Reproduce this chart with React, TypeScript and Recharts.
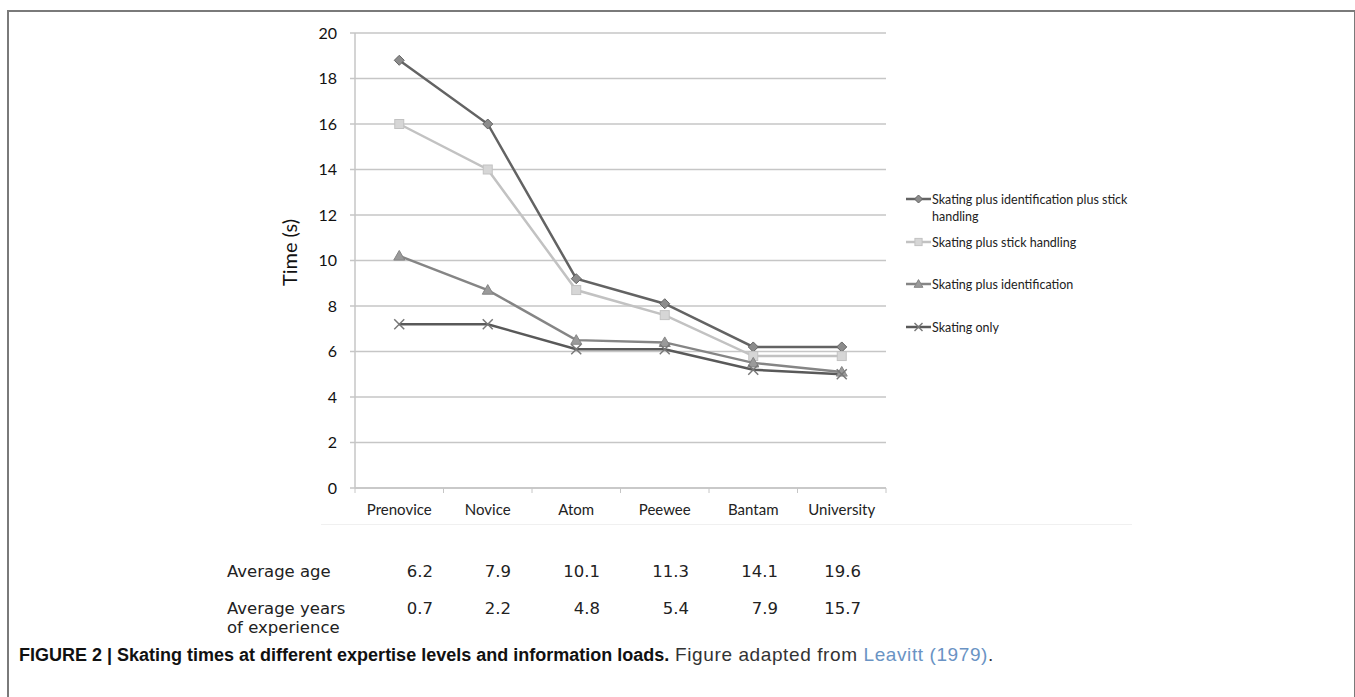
import { LineChart, Line, XAxis, YAxis, CartesianGrid } from 'recharts';

// expertise levels along the x axis
const levels = ['Prenovice', 'Novice', 'Atom', 'Peewee', 'Bantam', 'University'];

// skating times (s)
const identPlusStick = [18.8, 16, 9.2, 8.1, 6.2, 6.2];
const plusStick = [16, 14, 8.7, 7.6, 5.8, 5.8];
const plusIdent = [10.2, 8.7, 6.5, 6.4, 5.5, 5.1];
const skatingOnly = [7.2, 7.2, 6.1, 6.1, 5.2, 5.0];

// table under the chart
const avgAge = ['6.2', '7.9', '10.1', '11.3', '14.1', '19.6'];
const avgYears = ['0.7', '2.2', '4.8', '5.4', '7.9', '15.7'];

const yTicks = [0, 2, 4, 6, 8, 10, 12, 14, 16, 18, 20];

type Marker = 'diamond' | 'square' | 'triangle' | 'cross';

const series: { key: string; name: string; stroke: string; fill: string; marker: Marker }[] = [
  { key: 'identStick', name: 'Skating plus identification plus stick handling', stroke: '#636363', fill: '#8c8c8c', marker: 'diamond' },
  { key: 'stick', name: 'Skating plus stick handling', stroke: '#c2c2c2', fill: '#d6d6d6', marker: 'square' },
  { key: 'ident', name: 'Skating plus identification', stroke: '#858585', fill: '#9a9a9a', marker: 'triangle' },
  { key: 'skating', name: 'Skating only', stroke: '#595959', fill: '#777777', marker: 'cross' },
];

const data = levels.map((level, i) => ({
  level,
  identStick: identPlusStick[i],
  stick: plusStick[i],
  ident: plusIdent[i],
  skating: skatingOnly[i],
}));

const W = 1355;
const H = 697;
const margin = { top: 33, right: 469, bottom: 179, left: 295 };
const Y_AXIS_W = 60;
const plotW = W - margin.left - margin.right - Y_AXIS_W;
const band = plotW / levels.length;

const gridColor = '#c6c6c6';
const chartFont = 'Lato, "Open Sans", sans-serif';

function MarkerShape({ type, cx, cy, stroke, fill, s = 1 }: { type: Marker; cx: number; cy: number; stroke: string; fill: string; s?: number }) {
  if (type === 'diamond') {
    const r = 5 * s;
    return <path d={`M${cx},${cy - r}L${cx + r},${cy}L${cx},${cy + r}L${cx - r},${cy}Z`} fill={fill} stroke={stroke} strokeWidth={1} />;
  }
  if (type === 'square') {
    const r = 4.5 * s;
    return <rect x={cx - r} y={cy - r} width={2 * r} height={2 * r} fill={fill} stroke={stroke} strokeWidth={1} />;
  }
  if (type === 'triangle') {
    const r = 5.5 * s;
    return <path d={`M${cx},${cy - r}L${cx + r},${cy + r * 0.75}L${cx - r},${cy + r * 0.75}Z`} fill={fill} stroke={stroke} strokeWidth={1} />;
  }
  const r = 5 * s;
  return (
    <g stroke={fill} strokeWidth={1.5}>
      <line x1={cx - r} y1={cy - r} x2={cx + r} y2={cy + r} />
      <line x1={cx - r} y1={cy + r} x2={cx + r} y2={cy - r} />
    </g>
  );
}

const makeDot = (type: Marker, stroke: string, fill: string) => (props: any) => {
  const { cx, cy, index } = props;
  if (cx == null || cy == null) return <g key={index} />;
  return (
    <g key={`${type}-${index}`}>
      <MarkerShape type={type} cx={cx} cy={cy} stroke={stroke} fill={fill} />
    </g>
  );
};

const LevelTick = (props: any) => {
  const { x, y, payload, index } = props;
  const left = x - band / 2;
  return (
    <g>
      <line x1={left} y1={y} x2={left} y2={y + 5} stroke={gridColor} />
      {index === levels.length - 1 && <line x1={left + band} y1={y} x2={left + band} y2={y + 5} stroke={gridColor} />}
      <text x={x} y={y + 27} textAnchor="middle" fill="#222" fontSize={15} fontFamily={chartFont}>
        {payload.value}
      </text>
    </g>
  );
};

const legendTops = [191, 234, 276, 319];

export default function App() {
  const colX = [433, 511, 600, 689, 778, 861];
  const tableFont = '"DejaVu Sans", Verdana, sans-serif';
  const narrow = '"Liberation Sans Narrow", "Arial Narrow", sans-serif';

  return (
    <div style={{ position: 'absolute', left: 0, top: 0, width: W, height: H, background: '#fff', overflow: 'hidden' }}>
      <div
        style={{
          position: 'absolute',
          left: 7,
          top: 10,
          width: 1345,
          height: 720,
          border: '2px solid #7a7a7a',
          borderBottom: 'none',
        }}
      />

      <LineChart width={W} height={H} data={data} margin={margin} style={{ position: 'absolute', left: 0, top: 0 }}>
        <CartesianGrid vertical={false} stroke={gridColor} strokeWidth={1.5} />
        <XAxis
          dataKey="level"
          stroke={gridColor}
          strokeWidth={1.5}
          tickLine={false}
          tickSize={0}
          tickMargin={0}
          height={30}
          interval={0}
          padding={{ left: band / 2, right: band / 2 }}
          tick={<LevelTick />}
        />
        <YAxis
          domain={[0, 20]}
          ticks={yTicks}
          width={Y_AXIS_W}
          stroke={gridColor}
          strokeWidth={1.5}
          tickSize={5}
          tickMargin={13}
          tickLine={{ stroke: gridColor }}
          tick={{ fill: '#111', fontSize: 16, fontFamily: chartFont }}
          label={{ value: 'Time (s)', angle: -90, position: 'insideLeft', dx: -10, dy: -8, style: { fontSize: 20, fill: '#111', fontFamily: chartFont, textAnchor: 'middle' } }}
        />
        {series.map((s) => (
          <Line
            key={s.key}
            dataKey={s.key}
            name={s.name}
            type="linear"
            stroke={s.stroke}
            strokeWidth={2.5}
            dot={makeDot(s.marker, s.stroke, s.fill)}
            activeDot={false}
            isAnimationActive={false}
          />
        ))}
      </LineChart>

      {/* legend */}
      {series.map((s, i) => (
        <div key={s.key} style={{ position: 'absolute', left: 905, top: legendTops[i], display: 'flex', alignItems: 'flex-start' }}>
          <svg width={27} height={16} style={{ flex: 'none' }}>
            <line x1={1} y1={8} x2={26} y2={8} stroke={s.stroke} strokeWidth={2.5} />
            <MarkerShape type={s.marker} cx={13.5} cy={8} stroke={s.stroke} fill={s.fill} s={0.8} />
          </svg>
          <div style={{ width: 205, fontSize: 12.5, lineHeight: '17px', color: '#222', fontFamily: chartFont }}>{s.name}</div>
        </div>
      ))}

      {/* faint rule under the category labels */}
      <div style={{ position: 'absolute', left: 321, top: 524, width: 811, height: 1, background: '#f0f0f0' }} />

      {/* average age / experience table */}
      <div style={{ position: 'absolute', left: 227, top: 562, fontSize: 16.5, fontFamily: tableFont, color: '#222' }}>Average age</div>
      {avgAge.map((v, i) => (
        <div key={`a${i}`} style={{ position: 'absolute', left: colX[i] - 60, width: 60, textAlign: 'right', top: 562, fontSize: 16.5, fontFamily: tableFont, color: '#222' }}>
          {v}
        </div>
      ))}
      <div style={{ position: 'absolute', left: 227, top: 599, fontSize: 16.5, lineHeight: '19px', fontFamily: tableFont, color: '#222' }}>
        Average years
        <br />
        of experience
      </div>
      {avgYears.map((v, i) => (
        <div key={`y${i}`} style={{ position: 'absolute', left: colX[i] - 60, width: 60, textAlign: 'right', top: 599, fontSize: 16.5, lineHeight: '19px', fontFamily: tableFont, color: '#222' }}>
          {v}
        </div>
      ))}

      {/* caption */}
      <div style={{ position: 'absolute', left: 19, top: 644, whiteSpace: 'nowrap', lineHeight: '22px', color: '#111' }}>
        <b style={{ fontFamily: narrow, fontSize: 18 }}>FIGURE 2 | Skating times at different expertise levels and information loads.</b>
        <span style={{ fontFamily: narrow, fontSize: 19, color: '#333', letterSpacing: 0.6 }}>
          {' '}Figure adapted from <span style={{ color: '#6a93c4' }}>Leavitt (1979)</span>.
        </span>
      </div>
    </div>
  );
}
